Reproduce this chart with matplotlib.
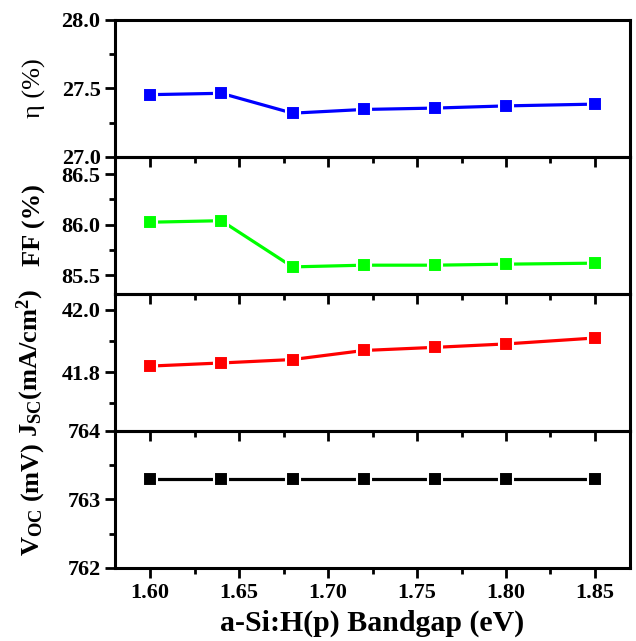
import numpy as np
import matplotlib
matplotlib.use('Agg')
import matplotlib.pyplot as plt
from matplotlib.ticker import MultipleLocator

plt.rcParams['font.family'] = ['Liberation Serif', 'DejaVu Serif']
plt.rcParams['font.weight'] = 'bold'
plt.rcParams['mathtext.fontset'] = 'custom'
plt.rcParams['mathtext.rm'] = 'Liberation Serif:bold'
plt.rcParams['mathtext.it'] = 'Liberation Serif:bold'
plt.rcParams['mathtext.bf'] = 'Liberation Serif:bold'

# a-Si:H(p) bandgap (eV)
bandgap = [1.60, 1.64, 1.68, 1.72, 1.76, 1.80, 1.85]
eta = [27.455, 27.465, 27.32, 27.347, 27.357, 27.373, 27.386]
ff = [86.025, 86.04, 85.583, 85.60, 85.60, 85.61, 85.62]
jsc = [41.819, 41.829, 41.840, 41.869, 41.879, 41.890, 41.909]
voc = [763.3, 763.3, 763.3, 763.3, 763.3, 763.3, 763.3]

xticks = [1.60, 1.65, 1.70, 1.75, 1.80, 1.85]

panels = [
    (eta, 'blue', 'η (%)', (27.0, 28.0), 0.5, 0.25, '%.1f', 'normal'),
    (ff, '#00ff00', 'FF (%)', (85.315, 86.67), 0.5, 0.25, '%.1f', 'bold'),
    (jsc, 'red', r'J$_{\mathregular{SC}}$(mA/cm$^{2}$)', (41.611, 42.05), 0.2, 0.1, '%.1f', 'bold'),
    (voc, 'black', r'V$_{\mathregular{OC}}$ (mV)', (762, 764), 1, 0.5, '%d', 'bold'),
]

fig, axes = plt.subplots(4, 1, sharex=True, figsize=(6.36, 6.41), dpi=100)
fig.subplots_adjust(left=0.181, right=0.9906, top=0.9688, bottom=0.1139, hspace=0)

for ax, (vals, col, lab, lim, maj, mnr, fmt, wt) in zip(axes, panels):
    ax.set_facecolor('none')
    ax.plot(bandgap, vals, color=col, lw=2.3, marker='s', ms=10,
            mfc=col, mec='white', mew=1.5, zorder=3)
    ax.set_ylim(lim)
    ax.yaxis.set_major_locator(MultipleLocator(maj))
    ax.yaxis.set_minor_locator(MultipleLocator(mnr))
    ax.yaxis.set_major_formatter(matplotlib.ticker.FormatStrFormatter(fmt))
    ax.set_ylabel(lab, fontsize=19, fontweight=wt)
    ax.yaxis.set_label_coords(-0.135, 0.5)
    for s in ax.spines.values():
        s.set_linewidth(2.2)
    ax.tick_params(which='major', direction='out', length=7, width=2, labelsize=16)
    ax.tick_params(which='minor', direction='out', length=4, width=2)
    for t in ax.get_yticklabels():
        t.set_fontweight('bold')

axes[-1].set_xlim(1.5803, 1.8697)
axes[-1].set_xticks(xticks)
axes[-1].xaxis.set_minor_locator(MultipleLocator(0.025))
axes[-1].xaxis.set_major_formatter(matplotlib.ticker.FormatStrFormatter('%.2f'))
axes[-1].set_xlabel('a-Si:H(p) Bandgap (eV)', fontsize=21.5, fontweight='bold', labelpad=5)
for t in axes[-1].get_xticklabels():
    t.set_fontweight('bold')

fig.savefig('out.png', dpi=100)
